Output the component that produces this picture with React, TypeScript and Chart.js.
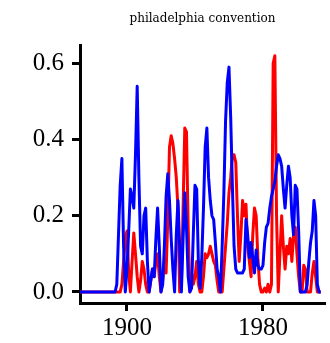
import React, { useEffect, useRef } from "react";
import { Chart, registerables } from "chart.js";

Chart.register(...registerables);

const years = [
  1872, 1873, 1874, 1875, 1876, 1877, 1878, 1879, 1880, 1881,
  1882, 1883, 1884, 1885, 1886, 1887, 1888, 1889, 1890, 1891,
  1892, 1893, 1894, 1895, 1896, 1897, 1898, 1899, 1900, 1901,
  1902, 1903, 1904, 1905, 1906, 1907, 1908, 1909, 1910, 1911,
  1912, 1913, 1914, 1915, 1916, 1917, 1918, 1919, 1920, 1921,
  1922, 1923, 1924, 1925, 1926, 1927, 1928, 1929, 1930, 1931,
  1932, 1933, 1934, 1935, 1936, 1937, 1938, 1939, 1940, 1941,
  1942, 1943, 1944, 1945, 1946, 1947, 1948, 1949, 1950, 1951,
  1952, 1953, 1954, 1955, 1956, 1957, 1958, 1959, 1960, 1961,
  1962, 1963, 1964, 1965, 1966, 1967, 1968, 1969, 1970, 1971,
  1972, 1973, 1974, 1975, 1976, 1977, 1978, 1979, 1980, 1981,
  1982, 1983, 1984, 1985, 1986, 1987, 1988, 1989, 1990, 1991,
  1992, 1993, 1994, 1995, 1996, 1997, 1998, 1999, 2000, 2001,
  2002, 2003, 2004, 2005, 2006, 2007, 2008, 2009, 2010, 2011,
  2012, 2013, 2014,
];

// blue series
const blueValues = [
  0, 0, 0, 0, 0, 0, 0, 0, 0, 0,
  0, 0, 0, 0, 0, 0, 0, 0, 0, 0,
  0, 0, 0.02, 0.15, 0.28, 0.35, 0.12, 0.0, 0.06, 0.16,
  0.27, 0.25, 0.22, 0.36, 0.54, 0.3, 0.12, 0.1, 0.2, 0.22,
  0.08, 0.0, 0.03, 0.06, 0.04, 0.14, 0.22, 0.12, 0.0, 0.02,
  0.12, 0.25, 0.31, 0.24, 0.14, 0.06, 0.0, 0.15, 0.24, 0.12,
  0.0, 0.14, 0.26, 0.17, 0.04, 0.0, 0.01, 0.15, 0.28, 0.27,
  0.08, 0.01, 0.09, 0.22, 0.38, 0.43, 0.3, 0.24, 0.2, 0.19,
  0.13, 0.06, 0.04, 0.0, 0.12, 0.26, 0.45, 0.55, 0.59, 0.46,
  0.28, 0.12, 0.06, 0.05, 0.05, 0.05, 0.05, 0.06, 0.19, 0.15,
  0.09, 0.13, 0.09, 0.05, 0.11, 0.07, 0.06, 0.06, 0.07, 0.13,
  0.17, 0.18, 0.22, 0.25, 0.27, 0.29, 0.33, 0.36, 0.35, 0.33,
  0.27, 0.22, 0.28, 0.33, 0.3, 0.2, 0.15, 0.28, 0.27, 0.16,
  0.0, 0.0, 0.0, 0.0, 0.02, 0.08, 0.13, 0.16, 0.24, 0.2,
  0.02, 0.0, 0.0,
];

// red series
const redValues = [
  0, 0, 0, 0, 0, 0, 0, 0, 0, 0,
  0, 0, 0, 0, 0, 0, 0, 0, 0, 0,
  0, 0, 0, 0, 0, 0.02, 0.08, 0.14, 0.16, 0.05,
  0.0, 0.08, 0.155, 0.1, 0.04, 0.0, 0.03, 0.08, 0.06, 0.02,
  0.0, 0.0, 0.03, 0.06, 0.04, 0.08, 0.1, 0.04, 0.0, 0.03,
  0.08, 0.05, 0.19, 0.38, 0.41, 0.39, 0.35, 0.3, 0.22, 0.0,
  0.02, 0.22, 0.43, 0.42, 0.17, 0.0, 0.05, 0.02, 0.04, 0.08,
  0.02, 0.0, 0.0, 0.04, 0.1, 0.09, 0.1, 0.12, 0.1, 0.08,
  0.07, 0.03, 0.0, 0.0, 0.0, 0.06, 0.12, 0.18, 0.26, 0.3,
  0.36, 0.36, 0.34, 0.2, 0.08, 0.15, 0.24, 0.2, 0.23, 0.12,
  0.08, 0.04, 0.15, 0.22, 0.2, 0.09, 0.02, 0.0, 0.0, 0.01,
  0.0, 0.02, 0.0, 0.02, 0.6, 0.62, 0.2, 0.0, 0.1, 0.2,
  0.12, 0.06, 0.12, 0.1, 0.14, 0.08, 0.15, 0.17, 0.1, 0.04,
  0.0, 0.0, 0.07, 0.06, 0.0, 0.0, 0.0, 0.05, 0.08, 0.04,
  0.0, 0.0, 0.0,
];

const xTicks = [1900, 1980];
const yTicks = [0.0, 0.2, 0.4, 0.6];
const titleText = "philadelphia convention";

const SERIF = "'Liberation Serif', 'Times New Roman', serif";

export default function App() {
  const ref = useRef<HTMLCanvasElement | null>(null);

  useEffect(() => {
    if (!ref.current) return;
    const toPts = (vals: number[]) => years.map((yr, i) => ({ x: yr, y: vals[i] }));
    const axisCommon = {
      border: { display: true, color: "#000", width: 3 },
      grid: {
        drawOnChartArea: false,
        drawTicks: true,
        tickLength: 8,
        tickWidth: 3,
        tickColor: "#000",
        color: "#000",
      },
    };
    const chart = new Chart(ref.current, {
      type: "line",
      data: {
        datasets: [
          {
            data: toPts(blueValues),
            borderColor: "#0000ff",
            borderWidth: 3,
            pointRadius: 0,
            tension: 0,
            borderJoinStyle: "round",
            fill: false,
          },
          {
            data: toPts(redValues),
            borderColor: "#ff0000",
            borderWidth: 3,
            pointRadius: 0,
            tension: 0,
            borderJoinStyle: "round",
            fill: false,
          },
        ],
      },
      options: {
        animation: false,
        responsive: false,
        events: [],
        layout: { padding: { left: 0, right: 5, top: 0, bottom: 0 } },
        plugins: {
          legend: { display: false },
          tooltip: { enabled: false },
          title: {
            display: true,
            text: titleText,
            fullSize: false,
            color: "#000",
            font: { family: "'DejaVu Serif', serif", size: 12, weight: "normal" },
            padding: { top: 12, bottom: 19 },
          },
        },
        scales: {
          x: {
            type: "linear",
            min: 1872.35,
            max: 2016.5,
            ...axisCommon,
            ticks: {
              color: "#000",
              font: { family: SERIF, size: 25 },
              padding: 2,
              maxRotation: 0,
              callback: (v: any) => String(v),
            },
            afterBuildTicks: (s: any) => {
              s.ticks = xTicks.map((v) => ({ value: v }));
            },
            afterFit: (s: any) => {
              s.height = 40;
            },
          },
          y: {
            type: "linear",
            min: -0.029,
            max: 0.647,
            ...axisCommon,
            ticks: {
              color: "#000",
              font: { family: SERIF, size: 25 },
              padding: 8,
              callback: (v: any) => Number(v).toFixed(1),
            },
            afterBuildTicks: (s: any) => {
              s.ticks = yTicks.map((v) => ({ value: v }));
            },
            afterFit: (s: any) => {
              s.width = 80;
            },
          },
        },
      } as any,
    });
    return () => chart.destroy();
  }, []);

  return (
    <div style={{ position: "absolute", left: 0, top: 0, width: 330, height: 343, background: "#fff" }}>
      <canvas ref={ref} width={330} height={343} style={{ display: "block" }} />
    </div>
  );
}
